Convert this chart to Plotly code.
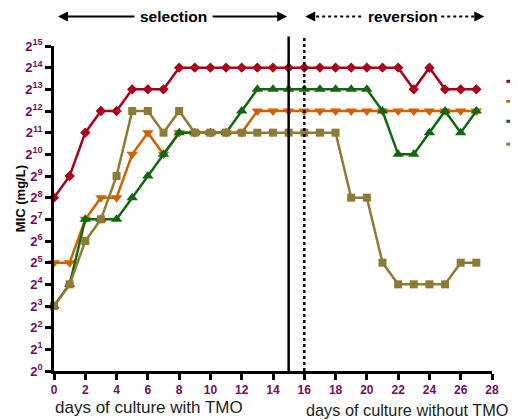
import plotly.graph_objects as go

days = list(range(28))
red_exp =    [8, 9, 11, 12, 12, 13, 13, 13, 14, 14, 14, 14, 14, 14, 14, 14, 14, 14, 14, 14, 14, 14, 14, 13, 14, 13, 13, 13]
orange_exp = [5, 5, 7, 8, 8, 10, 11, 10, 11, 11, 11, 11, 11, 12, 12, 12, 12, 12, 12, 12, 12, 12, 12, 12, 12, 12, 12, 12]
green_exp =  [3, 4, 7, 7, 7, 8, 9, 10, 11, 11, 11, 11, 12, 13, 13, 13, 13, 13, 13, 13, 13, 12, 10, 10, 11, 12, 11, 12]
olive_exp =  [3, 4, 6, 7, 9, 12, 12, 11, 12, 11, 11, 11, 11, 11, 11, 11, 11, 11, 11, 8, 8, 5, 4, 4, 4, 4, 5, 5]

series_names = ["strain 1", "strain 2", "strain 3", "strain 4"]
series_exps = [red_exp, orange_exp, green_exp, olive_exp]
colors = ["#a8001a", "#cc6200", "#10670f", "#8c7a35"]
symbols = ["diamond", "triangle-down", "triangle-up", "square"]
sizes = [8, 10, 10, 8]

ytick_exps = list(range(16))
xticks = list(range(0, 29, 2))

OFF = 8  # default page body margin
W, H = 518 - OFF, 420 - OFF
pw, ph = 437.7, 325.4
L, T = 54 - OFF, 45.6 - OFF
R, B = W - L - pw, H - T - ph

def px_x(p):
    return (p - OFF - L) / pw

def px_y(p):
    return (OFF + T + ph - p) / ph

fig = go.Figure()
for name, exps, c, s, sz in zip(series_names, series_exps, colors, symbols, sizes):
    fig.add_trace(go.Scatter(
        x=days, y=[2 ** e for e in exps], mode="lines+markers", name=name,
        line=dict(color=c, width=2.5),
        marker=dict(symbol=s, size=sz, color=c),
        cliponaxis=False, showlegend=False))

# vertical separators
fig.add_shape(type="line", xref="x", yref="paper", x0=15, x1=15, y0=0, y1=px_y(36),
              line=dict(color="black", width=2.5))
fig.add_shape(type="line", xref="x", yref="paper", x0=16, x1=16, y0=0, y1=px_y(36),
              line=dict(color="black", width=2.5, dash="dot"))

# legend stubs (legend text is cut off in the reference)
for c, yp in zip(colors, [81, 101, 121, 144]):
    fig.add_shape(type="line", xref="paper", yref="paper", x0=px_x(506), x1=px_x(516),
                  y0=px_y(yp), y1=px_y(yp), line=dict(color=c, width=3))

ya = px_y(16)

def arrow(tip, tail):
    fig.add_annotation(xref="paper", yref="paper", x=px_x(tip), y=ya, ax=tail - tip, ay=0,
                       axref="pixel", ayref="pixel", showarrow=True, arrowhead=2, arrowsize=1,
                       arrowwidth=2, arrowcolor="black", text="")

# selection arrow
arrow(58, 136)
arrow(287, 211)
fig.add_annotation(xref="paper", yref="paper", x=px_x(173.5), y=ya, yanchor="middle",
                   xanchor="center", text="<b>selection</b>",
                   showarrow=False, font=dict(size=15.5, color="black", family="Arial"))
# reversion arrow (dotted)
fig.add_shape(type="line", xref="paper", yref="paper", x0=px_x(310), x1=px_x(364), y0=ya, y1=ya,
              line=dict(color="black", width=2, dash="dot"))
fig.add_shape(type="line", xref="paper", yref="paper", x0=px_x(441), x1=px_x(478), y0=ya, y1=ya,
              line=dict(color="black", width=2, dash="dot"))
arrow(305, 313)
arrow(484, 476)
fig.add_annotation(xref="paper", yref="paper", x=px_x(402.5), y=ya, yanchor="middle",
                   xanchor="center", text="<b>reversion</b>",
                   showarrow=False, font=dict(size=15.5, color="black", family="Arial"))

# y title
fig.add_annotation(xref="paper", yref="paper", x=px_x(20), y=px_y(198), textangle=-90,
                   xanchor="center", yanchor="middle", text="<b>MIC (mg/L)</b>",
                   showarrow=False, font=dict(size=13, color="black", family="Arial"))

# bottom labels
fig.add_annotation(xref="paper", yref="paper", x=px_x(53), y=px_y(408), xanchor="left",
                   yanchor="middle", text="days of culture with TMO", showarrow=False,
                   font=dict(size=17, color="#222222", family="Arial"))
fig.add_annotation(xref="paper", yref="paper", x=px_x(304), y=px_y(410), xanchor="left",
                   yanchor="middle", text="days of culture without TMO", showarrow=False,
                   font=dict(size=16.3, color="#222222", family="Arial"))

fig.update_layout(
    width=W, height=H, margin=dict(l=L, r=R, t=T, b=B, autoexpand=False),
    plot_bgcolor="white", paper_bgcolor="white",
    font=dict(family="Arial"),
    xaxis=dict(range=[0, 28], tickvals=xticks, ticktext=[f"<b>{v}</b>" for v in xticks],
               showgrid=False, zeroline=False, automargin=False,
               showline=True, linecolor="black", linewidth=2.5,
               ticks="outside", ticklen=6, tickwidth=2.5, tickcolor="black",
               tickfont=dict(size=12, color="#6e0f5e", family="Arial")),
    yaxis=dict(type="log", range=[0, 15 * 0.30103], tickvals=[2 ** e for e in ytick_exps],
               ticktext=[f"<b>2<sup>{e}</sup></b>" for e in ytick_exps],
               showgrid=False, zeroline=False, automargin=False,
               showline=True, linecolor="black", linewidth=2.5,
               ticks="outside", ticklen=6, tickwidth=2.5, tickcolor="black",
               tickfont=dict(size=13, color="#6e0f5e", family="Arial")),
)

fig.write_html("out.html")
